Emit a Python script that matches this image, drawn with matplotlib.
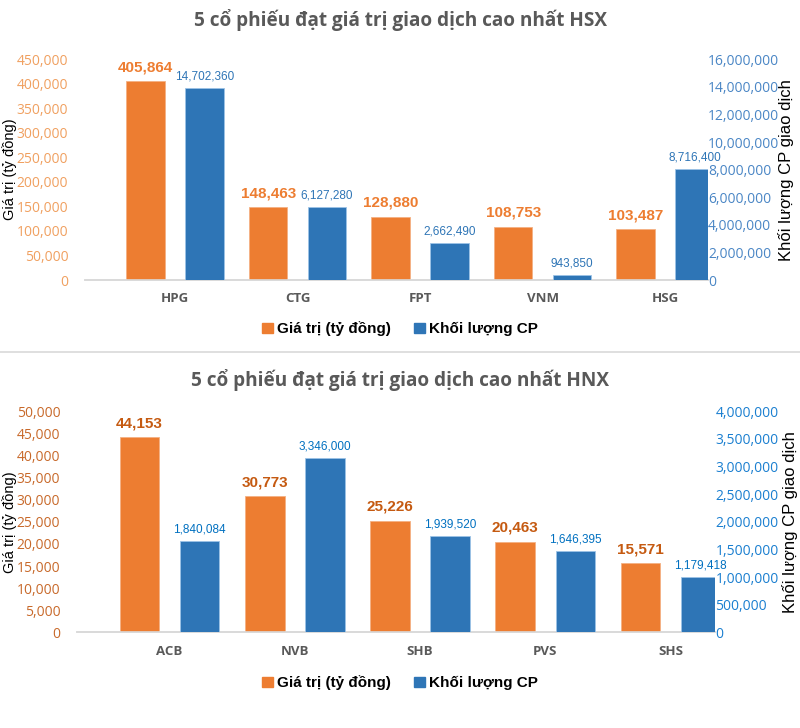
import matplotlib.pyplot as plt
from matplotlib.patches import Patch
from matplotlib import font_manager
import numpy as np

# ---- data ----
hsx_codes = ["HPG", "CTG", "FPT", "VNM", "HSG"]
hsx_value = [405864, 148463, 128880, 108753, 103487]          # ty dong
hsx_volume_label = [14702360, 6127280, 2662490, 943850, 8716400]
hsx_volume_bar = [13940000, 5290000, 2700000, 340000, 8050000]  # bar heights as drawn

hnx_codes = ["ACB", "NVB", "SHB", "PVS", "SHS"]
hnx_value = [44153, 30773, 25226, 20463, 15571]
hnx_volume_label = [1840084, 3346000, 1939520, 1646395, 1179418]
hnx_volume_bar = [1647000, 3160000, 1750000, 1470000, 995000]

ORANGE = "#ED7D31"
BLUE = "#2E75B6"
GREY = "#595959"

names = {f.name for f in font_manager.fontManager.ttflist}
narrow = "Liberation Sans Narrow" if "Liberation Sans Narrow" in names else "Liberation Sans"
plt.rcParams["font.family"] = ["Open Sans", "DejaVu Sans"]

fig = plt.figure(figsize=(8, 7.28), dpi=100)
W, H = 800.0, 728.0


def panel(box, codes, value, vol_bar, vol_label, vmax, vstep, rmax, rstep,
          xl, xr, title, title_y, lbl_left, lbl_right, leg_y,
          tick_orange, lab_orange, tick_blue, lab_blue):
    x0, y0, x1, y1 = box
    ax = fig.add_axes([x0 / W, 1 - y1 / H, (x1 - x0) / W, (y1 - y0) / H])
    ax2 = ax.twinx()
    x = np.arange(len(codes))
    w = 0.315
    off = 0.24
    ax.bar(x - off, value, w, color=ORANGE, edgecolor="#F4B183", linewidth=0.6, zorder=3)
    ax2.bar(x + off, vol_bar, w, color=BLUE, edgecolor="#9DC3E6", linewidth=0.6, zorder=3)
    ax.set_ylim(0, vmax)
    ax2.set_ylim(0, rmax)
    ax.set_xlim(xl, xr)
    ax.set_yticks(np.arange(0, vmax + 1, vstep))
    ax2.set_yticks(np.arange(0, rmax + 1, rstep))
    ax.set_yticklabels([f"{int(v):,}" for v in np.arange(0, vmax + 1, vstep)])
    ax2.set_yticklabels([f"{int(v):,}" for v in np.arange(0, rmax + 1, rstep)])
    ax.tick_params(axis="y", length=0, pad=12, labelsize=10, labelcolor=tick_orange)
    ax2.tick_params(axis="y", length=0, pad=0, labelsize=10, labelcolor=tick_blue)
    ax.set_xticks(x)
    ax.set_xticklabels(codes, fontweight="bold", color=GREY, fontsize=9.5)
    ax.tick_params(axis="x", length=0, pad=9)
    for a in (ax, ax2):
        for s in ("top", "left", "right"):
            a.spines[s].set_visible(False)
        a.spines["bottom"].set_color("#D9D9D9")
        a.spines["bottom"].set_linewidth(1.2)
    for xi, v in zip(x, value):
        ax.annotate(f"{v:,}", (xi - off, v), xytext=(0, 5), textcoords="offset points",
                    ha="center", va="bottom", fontsize=11, fontweight="bold",
                    color=lab_orange, family=[narrow, "DejaVu Sans"])
    for xi, vb, vl in zip(x, vol_bar, vol_label):
        ax2.annotate(f"{vl:,}", (xi + off, vb), xytext=(0, 4), textcoords="offset points",
                     ha="center", va="bottom", fontsize=8.5,
                     color=lab_blue, family=[narrow, "DejaVu Sans"])
    fig.text(400 / W, 1 - title_y / H, title, ha="center", va="center",
             fontsize=13.7, fontweight="bold", color=GREY)
    fig.text(lbl_left[0] / W, 1 - lbl_left[1] / H, "Giá trị (tỷ đồng)", rotation=90,
             ha="center", va="center", fontsize=10.5, family=["Liberation Sans", "DejaVu Sans"])
    fig.text(lbl_right[0] / W, 1 - lbl_right[1] / H, "Khối lượng CP giao dịch", rotation=90,
             ha="center", va="center", fontsize=12, family=["Liberation Sans", "DejaVu Sans"])
    handles = [Patch(color=ORANGE, label="Giá trị (tỷ đồng)"),
               Patch(color=BLUE, label="Khối lượng CP")]
    fig.legend(handles=handles, loc="center", bbox_to_anchor=(400 / W, 1 - leg_y / H),
               ncol=2, frameon=False, handlelength=0.7, handleheight=0.7,
               handletextpad=0.3, columnspacing=1.5,
               prop={"family": ["Liberation Sans", "DejaVu Sans"], "weight": "bold", "size": 11})
    return ax


panel((85, 59.3, 708, 280), hsx_codes, hsx_value, hsx_volume_bar, hsx_volume_label,
      450000, 50000, 16000000, 2000000, -0.735, 4.35,
      "5 cổ phiếu đạt giá trị giao dịch cao nhất HSX", 20, (10, 169), (786, 170), 329,
      "#F0A060", ORANGE, "#4A86C5", "#2E75B6")

panel((77, 411.3, 715.5, 632.3), hnx_codes, hnx_value, hnx_volume_bar, hnx_volume_label,
      50000, 5000, 4000000, 500000, -0.74, 4.36,
      "5 cổ phiếu đạt giá trị giao dịch cao nhất HNX", 380, (10, 522), (790, 522), 683,
      "#C8692A", "#C55A11", "#1A7FD0", "#0070C0")

# separator between the two charts
fig.add_artist(plt.Line2D([0, 1], [1 - 352 / H, 1 - 352 / H], color="#D9D9D9", linewidth=1.2))

fig.savefig("out.png", dpi=100, facecolor="white")
